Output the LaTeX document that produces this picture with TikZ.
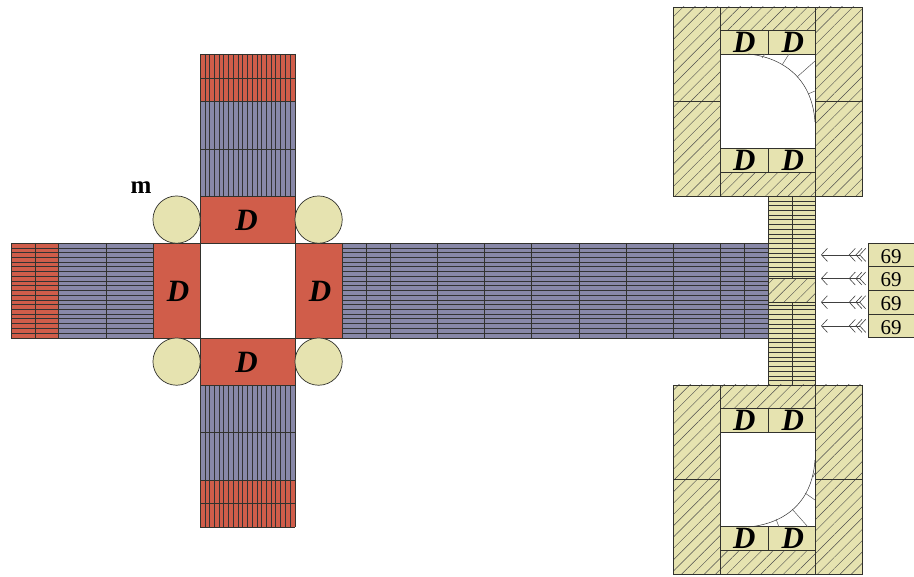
\documentclass[tikz,border=0pt]{standalone}
\usepackage{fontspec}
\setmainfont{Liberation Serif}
\usetikzlibrary{arrows.meta,patterns.meta}
\definecolor{brick}{RGB}{208,93,74}
\definecolor{slate}{RGB}{136,136,168}
\definecolor{straw}{RGB}{230,227,176}
\definecolor{edge}{RGB}{50,50,45}
\tikzset{
	cell/.style={draw=edge, line width=0.7pt},
	stripe/.style={black!80, line width=0.4pt},
	hatched/.style={cell, pattern={Lines[angle=45,distance=8pt,line width=0.45pt]}, pattern color=black!70, preaction={fill=straw}},
	dblock/.style={cell, inner sep=0pt, font=\bfseries\itshape\fontsize{31}{31}\selectfont},
	roller/.style={cell, circle, fill=straw, minimum size=47.3pt, inner sep=0pt},
	rowbox/.style={cell, fill=straw, minimum width=46pt, minimum height=23.67pt, inner sep=0pt, text height=16.5pt, text depth=0pt, font=\fontsize{21}{21}\selectfont},
	rib/.style={black!65, line width=0.5pt},
	feed/.style={black!75, line width=0.6pt, {Straight Barb[reversed,length=6pt,width=13pt,sep=-3pt]Straight Barb[reversed,length=6pt,width=13pt,sep=-3pt]Straight Barb[reversed,length=6pt,width=13pt]}-{Straight Barb[length=6pt,width=13pt]}}
}
\begin{document}
\begin{tikzpicture}[x=1pt,y=-1pt]
	\useasboundingbox (0,0) rectangle (914,577);

	% bars
	\fill[brick] (11,243) rectangle (58,338);
	\fill[slate] (58,243) rectangle (153,338);
	\fill[slate] (342,243) rectangle (768,338);
	\fill[brick] (200,54) rectangle (295,101);
	\fill[slate] (200,101) rectangle (295,196);
	\fill[slate] (200,385) rectangle (295,480);
	\fill[brick] (200,480) rectangle (295,527);
	\fill[straw] (768,196) rectangle (815.5,385);

	\foreach \k in {1,...,19}{
		\draw[stripe] (11,{243+4.73*\k}) -- (153,{243+4.73*\k});
		\draw[stripe] (342,{243+4.73*\k}) -- (768,{243+4.73*\k});
		\draw[stripe] ({200+4.73*\k},54) -- ({200+4.73*\k},196);
		\draw[stripe] ({200+4.73*\k},385) -- ({200+4.73*\k},527);
	}
	\foreach \x in {11,35,58,106,342,366,390,437,484,531.5,579,626,673,720.5,744}
		\draw[cell] (\x,243) -- (\x,338);
	\foreach \y in {54,78,101,149,385,432,480,503.5,527}
		\draw[cell] (200,\y) -- (295,\y);
	\draw[cell] (11,243) -- (153,243) (11,338) -- (153,338) (342,243) -- (768,243) (342,338) -- (768,338);
	\draw[cell] (200,54) -- (200,196) (295,54) -- (295,196) (200,385) -- (200,527) (295,385) -- (295,527);

	% column on the right
	\foreach \k in {1,...,17,23,24,...,39}
		\draw[stripe] (768,{196+4.73*\k}) -- (815.5,{196+4.73*\k});
	\draw[hatched] (768,278.5) rectangle (815.5,302.2);
	\draw[cell] (768,196) rectangle (815.5,385);
	\draw[cell] (792,196) -- (792,278.5) (792,302.2) -- (792,385);

	% crossing
	\node[dblock, fill=brick, minimum width=95pt, minimum height=47.3pt, text height=22pt, text depth=0pt] (Dn) at (247.5,219.6) {\hspace{-2pt}D};
	\node[dblock, fill=brick, minimum width=95pt, minimum height=47.3pt, text height=22pt, text depth=0pt] (Ds) at (247.5,361.6) {\hspace{-2pt}D};
	\node[dblock, fill=brick, minimum width=47.3pt, minimum height=95pt, text height=23pt, text depth=0pt] (Dw) at (176.6,290.5) {\hspace{3pt}D};
	\node[dblock, fill=brick, minimum width=47.3pt, minimum height=95pt, text height=23pt, text depth=0pt] (De) at (318.6,290.5) {\hspace{3pt}D};
	\foreach \n/\x/\y in {a/176.6/219.6, b/318.6/219.6, c/176.6/361.6, d/318.6/361.6}
		\node[roller] (C\n) at (\x,\y) {};
	\node[font=\bfseries\fontsize{25}{25}\selectfont] (m) at (141,188) {m};

	% two frames
	\foreach \n/\t in {u/7, l/385}{
		\draw[hatched] (673,\t) rectangle (720.5,{\t+94.6});
		\draw[hatched] (673,{\t+94.6}) rectangle (720.5,{\t+189.2});
		\draw[hatched] (815.5,\t) rectangle (862.5,{\t+94.6});
		\draw[hatched] (815.5,{\t+94.6}) rectangle (862.5,{\t+189.2});
		\draw[hatched] (720.5,\t) rectangle (815.5,{\t+23.7});
		\draw[hatched] (720.5,{\t+165.5}) rectangle (815.5,{\t+189.2});
		\node[dblock, fill=straw, minimum width=47.5pt, minimum height=23.7pt] (\n a) at (744.2,{\t+35.5}) {D};
		\node[dblock, fill=straw, minimum width=47.5pt, minimum height=23.7pt] (\n b) at (791.7,{\t+35.5}) {\hspace{2pt}D};
		\node[dblock, fill=straw, minimum width=47.5pt, minimum height=23.7pt] (\n c) at (744.2,{\t+153.6}) {D};
		\node[dblock, fill=straw, minimum width=47.5pt, minimum height=23.7pt] (\n d) at (791.7,{\t+153.6}) {\hspace{2pt}D};
	}

	% curved liners
	\draw[rib, black!80] (748,54) .. controls (780,57) and (812,76) .. (815,122);
	\draw[rib] (762,58) -- (765,54) (782,65) -- (789,54) (797,77) -- (815,61) (808,94) -- (815,91);
	\draw[rib, black!80] (748,527) .. controls (782,524) and (812,505) .. (815,460);
	\draw[rib] (776,519) -- (779,527) (792,509) -- (808,527) (805,493) -- (815,500) (813,477) -- (815,473);

	% loads
	\foreach \x in {1,...,4}{
		\node[rowbox] (R\x) at (891,{231.2+23.67*\x}) {69};
		\coordinate (A\x) at (863,{231.2+23.67*\x});
		\coordinate (B\x) at (821,{231.2+23.67*\x});
		\draw[feed] (A\x) -- (B\x);
	}
\end{tikzpicture}
\end{document}
